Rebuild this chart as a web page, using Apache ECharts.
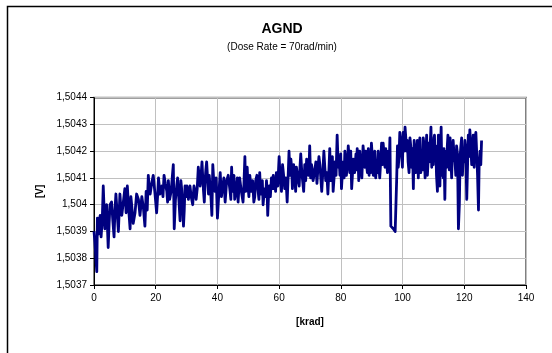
<!DOCTYPE html>
<html>
<head>
<meta charset="utf-8">
<script src="https://cdn.jsdelivr.net/npm/echarts@6/dist/echarts.min.js"></script>
<style>
html,body{margin:0;padding:0;background:#fff;}
#c{width:552px;height:353px;}
</style>
</head>
<body>
<div id="c"></div>
<script>
var titleText = 'AGND';
var subtitleText = '(Dose Rate = 70rad/min)';
var xAxisName = '[krad]';
var yAxisName = '[V]';
var xTicks = [0, 20, 40, 60, 80, 100, 120, 140];
var yTicks = [1.5037, 1.5038, 1.5039, 1.504, 1.5041, 1.5042, 1.5043, 1.5044];

var dose = [
0,0.3,0.9,1.1,1.7,2.3,3.0,3.5,4.1,4.6,5.2,5.7,6.5,7.1,7.9,8.4,9.0,10.0,10.8,11.7,12.2,13.3,14.4,15.5,16.5,16.9,17.6,18.2,19.2,20.3,
20.9,22.0,22.7,23.6,24.1,25.0,25.7,26.0,26.8,27.4,27.9,28.4,29.0,29.5,30.1,30.6,31.1,32.0,32.4,33.1,33.8,34.4,35.0,35.5,36.0,36.5,37.1,37.6,38.2,38.5,
39.2,40.0,40.9,41.7,42.5,43.0,44.1,44.6,45.1,45.6,46.2,46.7,47.2,48.3,48.9,49.4,49.9,50.5,51.0,51.8,52.4,53.2,53.7,54.3,54.8,55.4,55.9,56.3,56.8,57.5,
58.1,58.6,59.1,60.0,60.4,61.1,61.8,62.6,63.2,63.8,64.3,65.1,65.6,66.5,67.0,67.6,68.3,68.9,69.5,69.9,70.5,71.0,71.9,72.6,73.2,73.8,74.5,75.1,75.8,76.4,
77.0,77.5,78.1,78.8,79.2,79.7,80.2,80.8,81.3,81.8,82.4,82.9,83.5,84.0,84.9,85.3,85.8,86.4,87.2,87.8,88.3,88.9,89.4,89.9,90.5,91.0,91.6,92.1,92.6,93.2,
93.7,94.3,94.8,95.4,95.9,96.2,96.6,97.0,97.3,97.6,98.1,98.6,99.1,99.7,100.2,100.8,101.3,101.8,102.4,102.9,103.5,104.0,104.5,105.1,105.6,106.2,106.7,107.3,107.8,108.3,
108.6,109.2,109.7,110.2,110.5,111.0,111.6,112.1,112.5,113.0,113.4,113.7,114.1,114.5,114.9,115.4,115.9,116.4,117.0,117.5,118.1,118.4,118.9,119.4,119.7,120.2,120.8,121.3,121.8,122.4,
122.9,123.5,124.0,124.3,124.6,125.1,125.6
];
var voltage = [
1.50390,1.50386,1.50375,1.50395,1.50394,1.50388,1.50407,1.50391,1.50400,1.50384,1.50400,1.50401,1.50388,1.50404,1.50390,1.50404,1.50396,1.50406,1.50407,1.50391,1.50400,1.50397,1.50402,1.50403,1.50392,1.50405,1.50411,1.50404,1.50411,1.50397,
1.50410,1.50407,1.50411,1.50405,1.50409,1.50405,1.50415,1.50391,1.50407,1.50404,1.50394,1.50406,1.50392,1.50407,1.50407,1.50402,1.50407,1.50400,1.50407,1.50402,1.50414,1.50407,1.50416,1.50405,1.50409,1.50416,1.50404,1.50407,1.50396,1.50415,
1.50405,1.50395,1.50412,1.50407,1.50401,1.50409,1.50405,1.50414,1.50407,1.50402,1.50407,1.50401,1.50410,1.50401,1.50418,1.50411,1.50407,1.50411,1.50405,1.50401,1.50409,1.50405,1.50412,1.50407,1.50400,1.50406,1.50409,1.50396,1.50407,1.50410,
1.50411,1.50409,1.50412,1.50418,1.50409,1.50415,1.50406,1.50401,1.50420,1.50417,1.50406,1.50410,1.50414,1.50407,1.50419,1.50409,1.50415,1.50417,1.50411,1.50422,1.50415,1.50409,1.50416,1.50414,1.50415,1.50405,1.50420,1.50409,1.50404,1.50421,
1.50415,1.50405,1.50416,1.50426,1.50414,1.50411,1.50406,1.50416,1.50420,1.50411,1.50422,1.50412,1.50406,1.50417,1.50419,1.50421,1.50409,1.50416,1.50422,1.50414,1.50415,1.50421,1.50416,1.50423,1.50411,1.50420,1.50415,1.50420,1.50410,1.50423,
1.50423,1.50414,1.50417,1.50420,1.50425,1.50392,1.50392,1.50391,1.50391,1.50390,1.50410,1.50414,1.50427,1.50419,1.50427,1.50429,1.50420,1.50416,1.50425,1.50414,1.50406,1.50416,1.50420,1.50410,1.50425,1.50420,1.50425,1.50410,1.50426,1.50417,
1.50416,1.50429,1.50421,1.50425,1.50417,1.50411,1.50426,1.50407,1.50429,1.50417,1.50421,1.50402,1.50420,1.50422,1.50417,1.50425,1.50410,1.50424,1.50416,1.50422,1.50391,1.50400,1.50422,1.50411,1.50420,1.50424,1.50402,1.50426,1.50428,1.50415,
1.50426,1.50425,1.50420,1.50411,1.50398,1.50420,1.50424
];

// additional readings between the main ones (dense band of the trace)
var doseExtra = [
1.4,2.0,2.7,3.8,4.9,6.1,6.8,7.5,8.7,9.5,10.4,11.2,11.95,12.7,13.8,14.9,16.0,17.25,17.9,18.7,19.7,20.6,21.4,22.35,23.1,23.85,24.5,25.35,26.4,27.1,
28.15,28.7,29.25,29.8,30.35,30.85,31.5,32.2,32.75,33.45,34.1,34.7,35.25,35.75,36.25,36.8,37.35,37.9,38.85,39.6,40.45,41.3,42.1,42.75,43.5,44.35,44.85,45.35,45.9,46.45,
46.95,47.75,48.6,49.15,49.65,50.2,50.75,51.4,52.1,52.8,53.45,54.0,54.55,55.1,55.65,56.1,56.55,57.15,57.8,58.35,58.85,59.55,60.2,60.75,61.45,62.2,62.9,63.5,64.05,64.7,
65.35,66.05,66.75,67.3,67.95,68.6,69.2,69.7,70.2,70.75,71.45,72.25,72.9,73.5,74.15,74.8,75.45,76.1,76.7,77.25,77.8,78.45,79.0,79.45,79.95,80.5,81.05,81.55,82.1,82.65,
83.2,83.75,84.45,85.1,85.55,86.1,86.8,87.5,88.05,88.6,89.15,89.65,90.2,90.75,91.3,91.85,92.35,92.9,93.45,94.0,94.55,95.1,95.65,98.35,98.85,99.4,99.95,100.5,101.05,101.55,
102.1,102.65,103.2,103.75,104.25,104.8,105.35,105.9,106.45,107.0,107.55,108.05,108.45,108.9,109.45,109.95,110.35,110.75,111.3,111.85,112.3,112.75,113.2,113.9,114.3,114.7,115.15,115.65,116.15,116.7,
117.25,117.8,118.65,119.15,119.55,119.95,120.5,121.05,121.55,122.1,122.65,123.2,123.75,124.8,125.35
];
var voltageExtra = [
1.50389,1.50396,1.50395,1.50396,1.50393,1.50394,1.50398,1.50397,1.50399,1.50401,1.50397,1.50399,1.50403,1.50393,1.50404,1.50396,1.50399,1.50398,1.50406,1.50408,1.50405,1.50403,1.50404,1.50403,1.50408,1.50401,1.50402,1.50410,1.50402,1.50410,
1.50409,1.50400,1.50398,1.50403,1.50405,1.50405,1.50403,1.50404,1.50405,1.50406,1.50410,1.50411,1.50410,1.50401,1.50413,1.50410,1.50411,1.50403,1.50408,1.50410,1.50404,1.50403,1.50410,1.50405,1.50411,1.50402,1.50405,1.50411,1.50404,1.50410,
1.50406,1.50405,1.50408,1.50405,1.50414,1.50403,1.50408,1.50409,1.50403,1.50411,1.50402,1.50404,1.50409,1.50404,1.50403,1.50405,1.50403,1.50403,1.50406,1.50406,1.50405,1.50407,1.50413,1.50405,1.50411,1.50410,1.50410,1.50411,1.50414,1.50415,
1.50405,1.50410,1.50414,1.50413,1.50405,1.50409,1.50413,1.50414,1.50410,1.50413,1.50412,1.50408,1.50418,1.50410,1.50412,1.50414,1.50412,1.50412,1.50409,1.50418,1.50410,1.50411,1.50419,1.50417,1.50419,1.50412,1.50410,1.50416,1.50415,1.50418,
1.50420,1.50411,1.50412,1.50413,1.50418,1.50420,1.50410,1.50418,1.50420,1.50412,1.50411,1.50412,1.50418,1.50416,1.50410,1.50412,1.50414,1.50416,1.50415,1.50419,1.50421,1.50412,1.50415,1.50422,1.50418,1.50424,1.50414,1.50420,1.50425,1.50424,
1.50412,1.50422,1.50421,1.50424,1.50412,1.50424,1.50420,1.50412,1.50413,1.50422,1.50418,1.50411,1.50423,1.50421,1.50414,1.50415,1.50426,1.50422,1.50405,1.50419,1.50421,1.50411,1.50410,1.50416,1.50414,1.50426,1.50413,1.50418,1.50420,1.50418,
1.50411,1.50419,1.50418,1.50425,1.50415,1.50416,1.50420,1.50414,1.50418,1.50422,1.50420,1.50414,1.50427,1.50414,1.50415
];

var seriesData = dose.map(function (d, i) { return [d, voltage[i]]; })
  .concat(doseExtra.map(function (d, i) { return [d, voltageExtra[i]]; }))
  .sort(function (a, b) { return a[0] - b[0]; });

function fmtV(v) {
  var s = v.toFixed(4).replace(/0+$/, '').replace(/\.$/, '');
  return s.replace('.', ',');
}

var chart = echarts.init(document.getElementById('c'), null, { renderer: 'canvas' });
var font = 'Liberation Sans, Arial, sans-serif';
chart.setOption({
  animation: false,
  backgroundColor: '#ffffff',
  textStyle: { fontFamily: font },
  graphic: [
    { type: 'rect', shape: { x: 7.5, y: 6.5, width: 600, height: 400 }, style: { fill: null, stroke: '#000', lineWidth: 1.5 }, z: 100 },
    { type: 'text', x: 282, y: 29, style: { text: titleText, font: 'bold 14px ' + font, fill: '#000', textAlign: 'center', textVerticalAlign: 'middle' } },
    { type: 'text', x: 282, y: 47.5, style: { text: subtitleText, font: '10px ' + font, fill: '#000', textAlign: 'center', textVerticalAlign: 'middle' } }
  ],
  grid: { left: 94, right: 26, top: 97.7, bottom: 68, show: true, borderColor: '#808080', borderWidth: 2, backgroundColor: '#ffffff' },
  xAxis: {
    type: 'value', min: xTicks[0], max: xTicks[xTicks.length - 1], interval: 20,
    name: xAxisName, nameLocation: 'middle', nameGap: 32,
    nameTextStyle: { fontWeight: 'bold', fontSize: 10, color: '#000', fontFamily: font },
    axisLine: { show: true, lineStyle: { color: '#000', width: 1 } },
    axisTick: { show: true, length: 4, lineStyle: { color: '#000' } },
    axisLabel: { fontSize: 10, color: '#000', margin: 8, fontFamily: font },
    splitLine: { show: true, lineStyle: { color: '#c0c0c0', width: 1 } }
  },
  yAxis: {
    type: 'value', min: yTicks[0], max: yTicks[yTicks.length - 1], interval: 0.0001,
    name: yAxisName, nameLocation: 'middle', nameGap: 49, nameRotate: 90,
    nameTextStyle: { fontWeight: 'bold', fontSize: 10, color: '#000', fontFamily: font },
    axisLine: { show: true, lineStyle: { color: '#000', width: 1 } },
    axisTick: { show: true, length: 4, lineStyle: { color: '#000' } },
    axisLabel: { fontSize: 10, color: '#000', margin: 7, formatter: fmtV, fontFamily: font },
    splitLine: { show: true, lineStyle: { color: '#c0c0c0', width: 1 } }
  },
  series: [{
    type: 'line', data: seriesData, showSymbol: false, symbol: 'none',
    lineStyle: { color: '#000080', width: 2.8, join: 'round' }
  }]
});
</script>
</body>
</html>
